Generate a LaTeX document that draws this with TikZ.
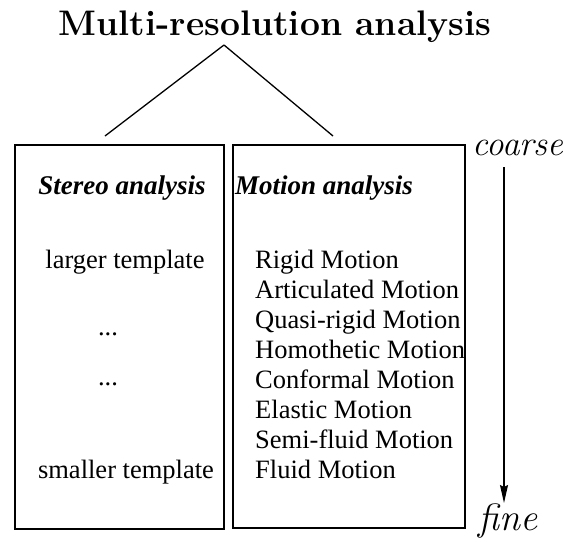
\documentclass[tikz,border=0pt]{standalone}
\usepackage{fontspec}
\newfontfamily\tms{Liberation Serif}
\usetikzlibrary{arrows.meta}
\begin{document}
\begin{tikzpicture}[x=1pt,y=-1pt,
  box/.style={draw,line width=1.4pt,inner sep=0pt},
  rowtxt/.style={font=\tms\fontsize{26.5}{30}\selectfont,inner sep=0pt,anchor=base west},
  ctxt/.style={font=\tms\fontsize{26.5}{30}\selectfont,inner sep=0pt,anchor=base},
  head/.style={font=\tms\bfseries\itshape\fontsize{27}{30}\selectfont,inner sep=0pt},
  side/.style={font=\itshape\fontsize{35}{38}\selectfont,inner sep=0pt,anchor=base},
  conn/.style={line width=1.3pt}]
\useasboundingbox (0,0) rectangle (564,541);
\node[font=\bfseries\fontsize{35.5}{40}\selectfont,inner sep=0pt,anchor=base] (title) at (275,35) {Multi-resolution analysis};
\coordinate (apex) at (224,45);
\coordinate (lend) at (105,136);
\coordinate (rend) at (333,136);
\draw[conn] (apex) -- (lend);
\draw[conn] (apex) -- (rend);
\node[box,minimum width=209pt,minimum height=384pt] (lbox) at (119.5,337) {};
\node[box,minimum width=232pt,minimum height=383pt] (rbox) at (349,336.5) {};
\node[head,anchor=base] (stereo) at (122,194) {Stereo analysis};
\node[head,anchor=base west] (motion) at (235,194) {Motion analysis};
\node[ctxt] (larger) at (125,268) {larger template};
\node[ctxt] (dots1) at (108,335) {...};
\node[ctxt] (dots2) at (108,385) {...};
\node[ctxt] (smaller) at (126,478) {smaller template};
\node[rowtxt] (m1) at (255,268) {Rigid Motion};
\node[rowtxt] (m2) at (255,298) {Articulated Motion};
\node[rowtxt] (m3) at (255,328) {Quasi-rigid Motion};
\node[rowtxt] (m4) at (255,358) {Homothetic Motion};
\node[rowtxt] (m5) at (255,388) {Conformal Motion};
\node[rowtxt] (m6) at (255,418) {Elastic Motion};
\node[rowtxt] (m7) at (255,448) {Semi-fluid Motion};
\node[rowtxt] (m8) at (255,478) {Fluid Motion};
\node[side] (coarse) at (518,155) {coarse};
\node[side,font=\itshape\fontsize{38}{40}\selectfont] (fine) at (508,530) {fine};
\coordinate (atop) at (504,167);
\coordinate (abot) at (504,503);
\draw[conn,-{Stealth[length=18pt,width=8pt,inset=2pt]}] (atop) -- (abot);
\end{tikzpicture}
\end{document}
